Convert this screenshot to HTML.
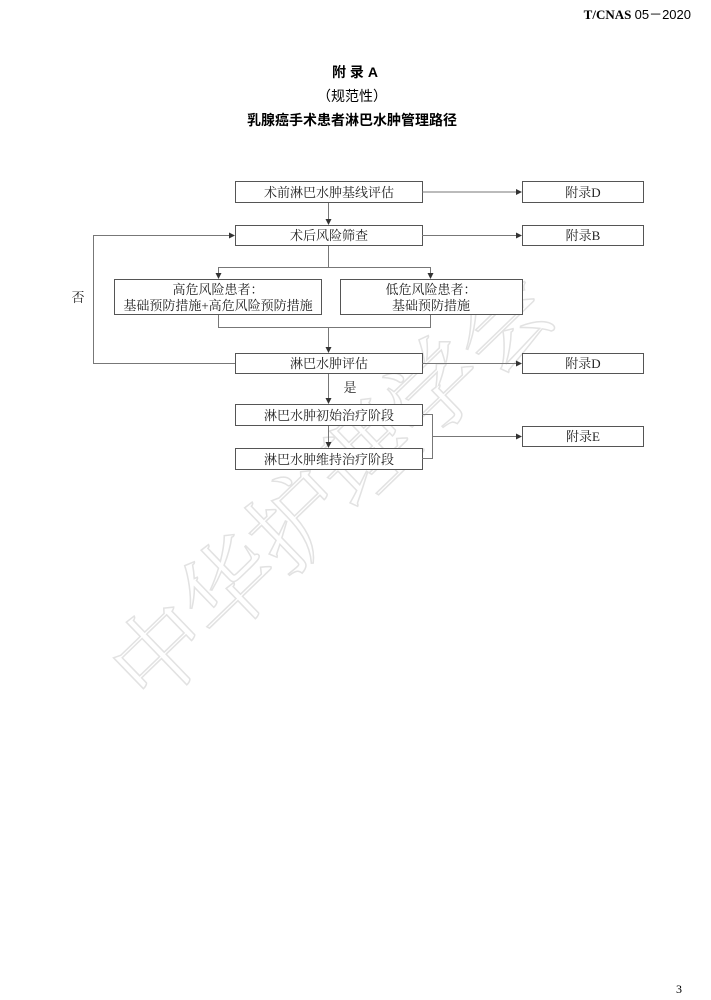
<!DOCTYPE html>
<html><head><meta charset="utf-8"><style>
html,body{margin:0;padding:0;background:#fff;}
svg{display:block;}
</style></head><body>
<svg width="711" height="1000" viewBox="0 0 711 1000" xmlns="http://www.w3.org/2000/svg">
<defs><marker id="a" markerWidth="6" markerHeight="6" refX="5" refY="3" orient="auto" markerUnits="userSpaceOnUse"><path d="M0,0 L6,3 L0,6 z" fill="#333"/></marker></defs>
<text x="0" y="0" transform="translate(150,710) rotate(-44)" font-family="'Noto Serif CJK SC',serif" font-size="95" fill="none" stroke="#e2e2e2" stroke-width="1.5">中华护理学会</text>
<g font-family="'Liberation Serif','Noto Serif CJK SC',serif" fill="#000">
<text x="691" y="19" text-anchor="end" font-size="13" font-weight="bold">T/CNAS <tspan font-family="'Liberation Sans',sans-serif" font-weight="normal">05－2020</tspan></text>
</g>
<g font-family="'Liberation Sans','Noto Sans CJK SC',sans-serif" font-size="14" font-weight="bold" text-anchor="middle">
<text x="355" y="77">附 录 A</text>
<text x="352" y="101" font-weight="normal">（规范性）</text>
<text x="352" y="125">乳腺癌手术患者淋巴水肿管理路径</text>
</g>
<text x="676" y="993" font-family="'Liberation Serif',serif" font-size="12">3</text>
<g fill="#fff" stroke="#555" stroke-width="1">
<rect x="235.5" y="181.5" width="187" height="21"/>
<rect x="522.5" y="181.5" width="121" height="21"/>
<rect x="235.5" y="225.5" width="187" height="20"/>
<rect x="522.5" y="225.5" width="121" height="20"/>
<rect x="114.5" y="279.5" width="207" height="35"/>
<rect x="340.5" y="279.5" width="182" height="35"/>
<rect x="235.5" y="353.5" width="187" height="20"/>
<rect x="522.5" y="353.5" width="121" height="20"/>
<rect x="235.5" y="404.5" width="187" height="21"/>
<rect x="522.5" y="426.5" width="121" height="20"/>
<rect x="235.5" y="448.5" width="187" height="21"/>
</g>
<g fill="none" stroke="#777" stroke-width="1">
<line x1="422" y1="192" x2="521" y2="192" marker-end="url(#a)"/>
<line x1="328.5" y1="203" x2="328.5" y2="224" marker-end="url(#a)"/>
<line x1="422" y1="235.5" x2="521" y2="235.5" marker-end="url(#a)"/>
<polyline points="328.5,246 328.5,267.5 218.5,267.5 218.5,278" marker-end="url(#a)"/>
<polyline points="328.5,267.5 430.5,267.5 430.5,278" marker-end="url(#a)"/>
<polyline points="218.5,315 218.5,327.5 430.5,327.5 430.5,315"/>
<line x1="328.5" y1="327.5" x2="328.5" y2="352" marker-end="url(#a)"/>
<polyline points="235,363.5 93.5,363.5 93.5,235.5 234,235.5" marker-end="url(#a)"/>
<line x1="422" y1="363.5" x2="521" y2="363.5" marker-end="url(#a)"/>
<line x1="328.5" y1="374" x2="328.5" y2="403" marker-end="url(#a)"/>
<line x1="328.5" y1="426" x2="328.5" y2="447" marker-end="url(#a)"/>
<polyline points="422,414.5 432.5,414.5 432.5,458.5 422,458.5"/>
<line x1="432.5" y1="436.5" x2="521" y2="436.5" marker-end="url(#a)"/>
</g>
<g font-family="'Liberation Serif','Noto Serif CJK SC',serif" font-size="13" text-anchor="middle" fill="#222">
<text x="329" y="197">术前淋巴水肿基线评估</text>
<text x="583" y="197">附录D</text>
<text x="329" y="240">术后风险筛查</text>
<text x="583" y="240">附录B</text>
<text x="218" y="294">高危风险患者：</text>
<text x="218" y="310">基础预防措施+高危风险预防措施</text>
<text x="431" y="294">低危风险患者：</text>
<text x="431" y="310">基础预防措施</text>
<text x="329" y="368">淋巴水肿评估</text>
<text x="583" y="368">附录D</text>
<text x="350" y="392">是</text>
<text x="78" y="302">否</text>
<text x="329" y="420">淋巴水肿初始治疗阶段</text>
<text x="583" y="441">附录E</text>
<text x="329" y="464">淋巴水肿维持治疗阶段</text>
</g>
</svg>
</body></html>
